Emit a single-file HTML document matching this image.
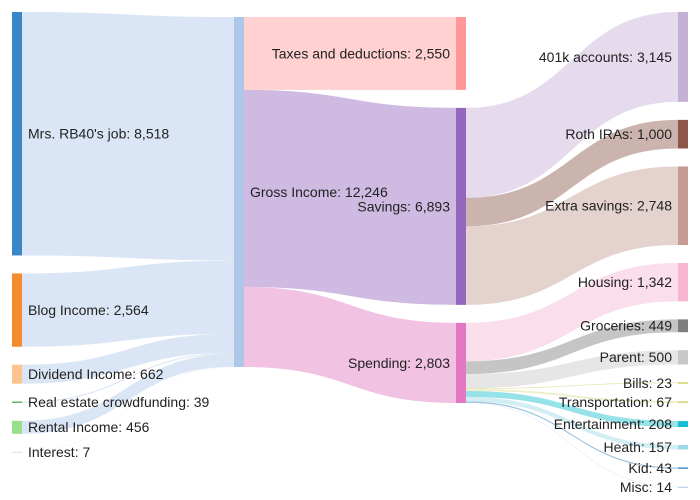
<!DOCTYPE html>
<html><head><meta charset="utf-8">
<style>
html,body{margin:0;padding:0;background:#fff;}
svg{display:block;font-family:"Liberation Sans",Arial,sans-serif;}
</style></head>
<body>
<svg id="chart" width="700" height="500" viewBox="0 0 700 500"></svg>
<script>
const nodeNames = ["Mrs. RB40's job","Blog Income","Dividend Income","Real estate crowdfunding","Rental Income","Interest",
 "Gross Income",
 "Taxes and deductions","Savings","Spending",
 "401k accounts","Roth IRAs","Extra savings","Housing","Groceries","Parent","Bills","Transportation","Entertainment","Heath","Kid","Misc"];
const nodeColumns = [0,0,0,0,0,0,1,2,2,2,3,3,3,3,3,3,3,3,3,3,3,3];
const nodeColors = ["#3a87c8","#f58b2e","#fcc38f","#2ca02c","#98df8a","#d6e4f0",
 "#aec7e8","#ff9896","#9467bd","#e377c2",
 "#c5b0d5","#8c564b","#c49c94","#f7b6d2","#7f7f7f","#c7c7c7","#bcbd22","#dbdb8d","#17becf","#9edae5","#1f77b4","#aec7e8"];
const linkSources = [0,1,2,3,4,5, 6,6,6, 8,8,8, 9,9,9,9,9,9,9,9,9];
const linkTargets = [6,6,6,6,6,6, 7,8,9, 10,11,12, 13,14,15,16,17,18,19,20,21];
const linkValues = [8518,2564,662,39,456,7, 2550,6893,2803, 3145,1000,2748, 1342,449,500,23,67,208,157,43,14];

const svg = document.getElementById('chart');
const NS = 'http://www.w3.org/2000/svg';
const colX = [12,234,456,678], colTop = [12,17,17,12], nodeW = 10, pad = 18, k = 350/12246;

const n = nodeNames.length;
const vin = new Array(n).fill(0), vout = new Array(n).fill(0);
linkValues.forEach((v,i)=>{vout[linkSources[i]]+=v; vin[linkTargets[i]]+=v;});
const nodes = [];
const cy = colTop.slice();
for (let i=0;i<n;i++){
  const val = Math.max(vin[i],vout[i]);
  const h = val*k;
  const c = nodeColumns[i];
  nodes.push({x:colX[c], y:cy[c], h:h, val:val, c:c, outY:cy[c], inY:cy[c]});
  cy[c] += h + pad;
}
const fmt = v => v.toLocaleString('en-US');

const gL = document.createElementNS(NS,'g');


svg.appendChild(gL);
linkValues.forEach((v,i)=>{
  const s = nodes[linkSources[i]], t = nodes[linkTargets[i]];
  const w = v*k;
  const x0 = s.x+nodeW, x1 = t.x, y0 = s.outY, y1 = t.inY;
  s.outY += w; t.inY += w;
  const xm = (x0+x1)/2;
  const d = `M${x0},${y0} C${xm},${y0} ${xm},${y1} ${x1},${y1} L${x1},${y1+w} C${xm},${y1+w} ${xm},${y0+w} ${x0},${y0+w} Z`;
  const p = document.createElementNS(NS,'path');
  p.setAttribute('d',d);
  p.setAttribute('fill',nodeColors[linkTargets[i]]);
  p.setAttribute('fill-opacity','0.45');
  
  
  gL.appendChild(p);
});

nodes.forEach((nd,i)=>{
  const slug = nodeNames[i].toLowerCase().replace(/[^a-z0-9]+/g,'-').replace(/-$/,'');
  const r = document.createElementNS(NS,'rect');
  r.setAttribute('x',nd.x); r.setAttribute('y',nd.y);
  r.setAttribute('width',nodeW); r.setAttribute('height',Math.max(nd.h,1));
  r.setAttribute('fill',nodeColors[i]);
  
  
  svg.appendChild(r);
  const t = document.createElementNS(NS,'text');
  const right = nd.c===0 || nd.c===1;
  t.setAttribute('x', right ? nd.x+nodeW+6 : nd.x-6);
  t.setAttribute('y', nd.y+Math.max(nd.h,1)/2);
  t.setAttribute('dy','0.35em');
  t.setAttribute('text-anchor', right ? 'start' : 'end');
  t.setAttribute('font-size','14');
  t.setAttribute('fill','#222');
  t.textContent = nodeNames[i]+': '+fmt(nd.val);
  
  
  svg.appendChild(t);
});
</script>
</body></html>
